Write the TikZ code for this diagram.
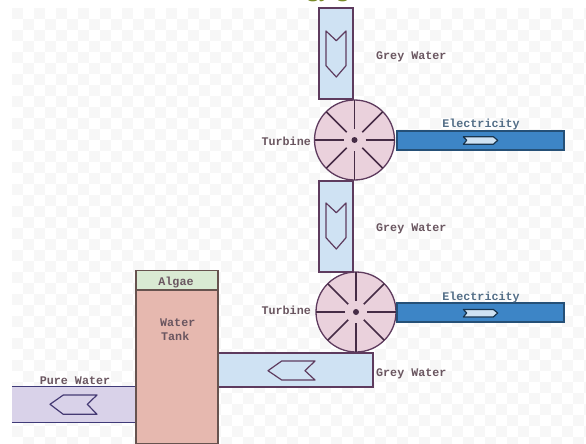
\documentclass[tikz,border=0pt]{standalone}
\usepackage{fontspec}
\setmainfont{Liberation Sans}
\setmonofont{Liberation Mono}
\usetikzlibrary{positioning}
\definecolor{aguagris}{HTML}{CFE2F3}
\definecolor{aguapura}{HTML}{D9D2E9}
\definecolor{rosa}{HTML}{EAD1DC}
\definecolor{azul}{HTML}{3D85C6}
\definecolor{alga}{HTML}{D9EAD3}
\definecolor{tanque}{HTML}{E6B8AF}
\definecolor{borde}{HTML}{5E3B5E}
\definecolor{texto}{HTML}{6A5660}
\definecolor{moradopura}{HTML}{3F3A78}
\definecolor{olivo}{HTML}{7A8B2A}

\begin{document}
\begin{tikzpicture}[
        x=1pt, y=-1pt,
        font=\fontsize{11.7}{13}\selectfont\ttfamily\bfseries,
        tubo/.style={draw=borde, fill=aguagris, line width=1.3pt, inner sep=0pt},
        cable/.style={draw=azul!60!black, fill=azul, line width=1.2pt, inner sep=0pt, minimum width=167pt, minimum height=19pt},
        turbina/.style={circle, draw=borde, fill=rosa, line width=1.3pt, inner sep=0pt, minimum size=80pt},
        aspa/.style={draw=borde!75!black, line width=1.7pt},
        flecha/.style={draw=borde, line width=1.2pt, line join=round},
        etiqueta/.style={text=texto, inner sep=0pt, anchor=west},
        etielec/.style={text=azul!45!gray!85!black, inner sep=0pt},
    ]
    \useasboundingbox (0,0) rectangle (586,444);
    % fondo
    \foreach \i in {0,...,52}
        \foreach \j in {0,...,39} {
            \pgfmathtruncatemacro{\paridad}{mod(\i+\j,2)}
            \ifnum\paridad=0
                \fill[black!3] (12+11*\i,8+11*\j) rectangle +(11,11);
            \fi
        }
    \begin{scope}
        \clip (0,0) rectangle (586,8);
        \node[text=olivo, font=\fontsize{21}{22}\selectfont\bfseries\sffamily, anchor=base west, inner sep=0pt] (titulo) at (307,-2) {gy g};
    \end{scope}

    \node[tubo, minimum width=34pt, minimum height=91pt] (gris1) at (336,53.5) {};
    \node[tubo, minimum width=34pt, minimum height=91pt] (gris2) at (336,226.5) {};
    \node[tubo, minimum width=155pt, minimum height=34pt] (gris3) at (295.5,370) {};
    \node[turbina] (turb1) at (354.5,140) {};
    \node[turbina] (turb2) at (356,312) {};
    \node[cable] (elec1) at (480.5,140.5) {};
    \node[cable] (elec2) at (480.5,312.5) {};
    \node[fill=aguapura, minimum width=124pt, minimum height=35pt, inner sep=0pt] (pura) at (74,404.5) {};
    \draw[moradopura, line width=1.2pt] (pura.north west) -- (pura.north east) (pura.south west) -- (pura.south east);
    \node[draw=tanque!45!black, fill=tanque, line width=1.3pt, minimum width=82pt, minimum height=153pt, inner sep=0pt] (tank) at (177,367) {};
    \node[draw=tanque!45!black, fill=alga, line width=1.3pt, minimum width=82pt, minimum height=19pt, inner sep=0pt, above=0pt of tank] (algae) {};

    % aspas
    \foreach \nombre in {turb1,turb2} {
        \foreach \ang in {0,45,...,315}
            \draw[aspa] (\nombre) ++(\ang:11) -- ++(\ang:29);
        \fill[borde!75!black] (\nombre) circle (3);
    }

    % flechas
    \draw[flecha] (326,31) -- (336.3,40.7) -- (346,31) -- (346,65.7) -- (336.3,77) -- (326,65.7) -- cycle;
    \draw[flecha] (326,203) -- (336.3,212.7) -- (346,203) -- (346,237.7) -- (336.3,249) -- (326,237.7) -- cycle;
    \draw[flecha] (268,370.7) -- (281.7,361) -- (315,361) -- (305,370.7) -- (315,380) -- (281.7,380) -- cycle;
    \draw[flecha, draw=moradopura!80!borde] (50,404.3) -- (63.3,395) -- (97,395) -- (87.3,404.3) -- (97,414.3) -- (63.3,414.3) -- cycle;
    \foreach \dy in {0,172.7}
        \draw[flecha, draw=azul!40!black, fill=aguagris] (463.3,136.7+\dy) -- (493.3,136.7+\dy) -- (497.7,140.3+\dy)
            -- (493.3,144.3+\dy) -- (463.3,144.3+\dy) -- (466.7,140.3+\dy) -- cycle;

    % textos
    \node[etiqueta] (lgris1) at (376,56.5) {Grey Water};
    \node[etiqueta] (lgris2) at (376,228.5) {Grey Water};
    \node[etiqueta] (lgris3) at (376,373.5) {Grey Water};
    \node[etiqueta, anchor=east] (lturb1) at (311,141) {Turbine};
    \node[etiqueta, anchor=east] (lturb2) at (311,310) {Turbine};
    \node[etielec] (lelec1) at (481,124) {Electricity};
    \node[etielec] (lelec2) at (481,297) {Electricity};
    \node[etiqueta, anchor=center] (lalgae) at (176,282) {Algae};
    \node[etiqueta] (lwater) at (160,323) {Water};
    \node[etiqueta] (ltank) at (161,336) {Tank};
    \node[etiqueta, anchor=center] (lpura) at (75,381) {Pure Water};
\end{tikzpicture}
\end{document}
